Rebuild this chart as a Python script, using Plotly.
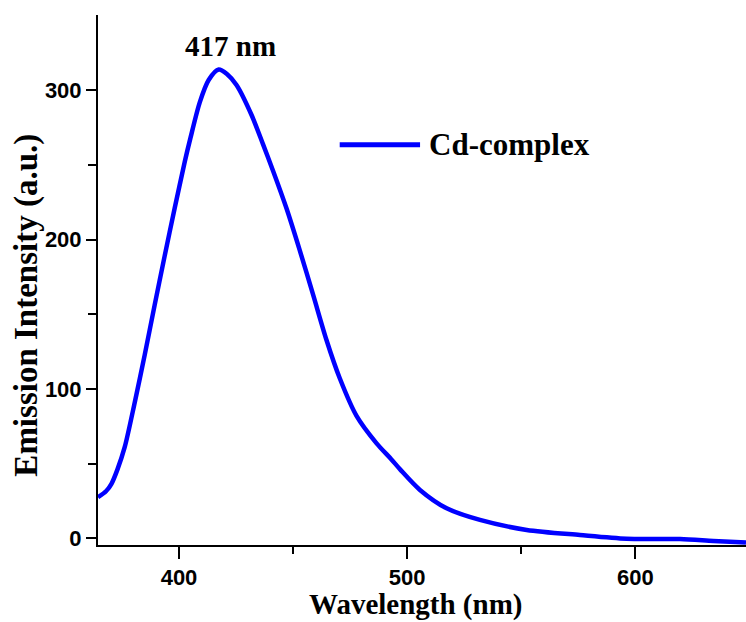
import plotly.graph_objects as go

# Data
wavelength = [364.5, 368.0, 370.4, 373.0, 376.2, 380.6, 385.0, 389.3, 393.7, 398.1,
              402.5, 405.0, 409.1, 413.0, 417.4, 421.0, 425.2, 431.8, 436.8, 441.0,
              447.1, 452.9, 458.8, 464.6, 470.5, 477.8, 486.6, 493.0, 497.0, 505.6,
              517.3, 531.9, 552.4, 575.7, 596.2, 619.6, 634.2, 648.5]
intensity = [27.5, 31.5, 36.5, 46.0, 61.0, 91.0, 123.0, 156.0, 189.0, 221.0,
             252.0, 268.0, 292.0, 307.0, 314.0, 311.0, 303.6, 283.5, 264.0, 247.0,
             221.0, 193.0, 163.0, 133.0, 107.0, 82.0, 63.6, 53.0, 46.0, 32.4,
             20.1, 12.3, 5.6, 2.2, -0.3, -0.5, -1.8, -2.9]
series_name = "Cd-complex"
peak_label = "417 nm"
peak_pos = (422.7, 330.0)

x_tickvals = [400, 500, 600]
y_tickvals = [0, 100, 200, 300]

BLUE = "#0000FF"
serif_bold = dict(family="Liberation Serif, Times New Roman, serif", color="black", weight="bold")
sans_bold = dict(family="Liberation Sans, Arial, sans-serif", color="black", weight="bold")

fig = go.Figure()
fig.add_trace(go.Scatter(
    x=wavelength, y=intensity, mode="lines", name=series_name,
    line=dict(color=BLUE, width=4.5, shape="spline", smoothing=0.8),
    showlegend=False,
))

# legend drawn as line sample + text
fig.add_shape(type="line", xref="paper", yref="paper", x0=0.373, x1=0.497, y0=0.755, y1=0.755,
              line=dict(color=BLUE, width=5))
fig.add_annotation(xref="paper", yref="paper", x=0.507, y=0.755, xanchor="left", yanchor="middle",
                   text=series_name, showarrow=False, font=dict(size=31, **serif_bold))

fig.add_annotation(x=peak_pos[0], y=peak_pos[1], text=peak_label, showarrow=False,
                   xanchor="center", yanchor="middle", font=dict(size=29, **serif_bold))

# y-axis title (placed as rotated text to match the reference position)
fig.add_annotation(xref="paper", yref="paper", x=-0.11, y=0.453, xanchor="center", yanchor="middle",
                   text="Emission Intensity (a.u.)", textangle=-90, showarrow=False,
                   font=dict(size=33, **serif_bold))

# x-axis title as text below the tick labels
fig.add_annotation(xref="paper", yref="paper", x=0.49, y=-0.112, xanchor="center", yanchor="middle",
                   text="Wavelength (nm)", showarrow=False, font=dict(size=29, **serif_bold))

fig.update_layout(
    width=746, height=622,
    margin=dict(l=98, r=0, t=15, b=77),
    paper_bgcolor="white", plot_bgcolor="white",
    xaxis=dict(
        range=[364.5, 648.5], tickvals=x_tickvals, ticks="outside", ticklen=12, tickwidth=2,
        tickcolor="black", showline=True, linecolor="black", linewidth=2, showgrid=False,
        zeroline=False, tickfont=dict(size=22, **sans_bold),
        minor=dict(tickvals=[450, 550], ticks="outside", ticklen=7, tickwidth=2, tickcolor="black"),
    ),
    yaxis=dict(
        range=[-4.5, 350.5], tickvals=y_tickvals, ticks="outside", ticklen=10, tickwidth=2,
        tickcolor="black", showline=True, linecolor="black", linewidth=2, showgrid=False,
        zeroline=False, tickfont=dict(size=22, **sans_bold),
        minor=dict(tickvals=[50, 150, 250], ticks="outside", ticklen=8, tickwidth=2, tickcolor="black"),
    ),
)

fig.write_html("out.html")
